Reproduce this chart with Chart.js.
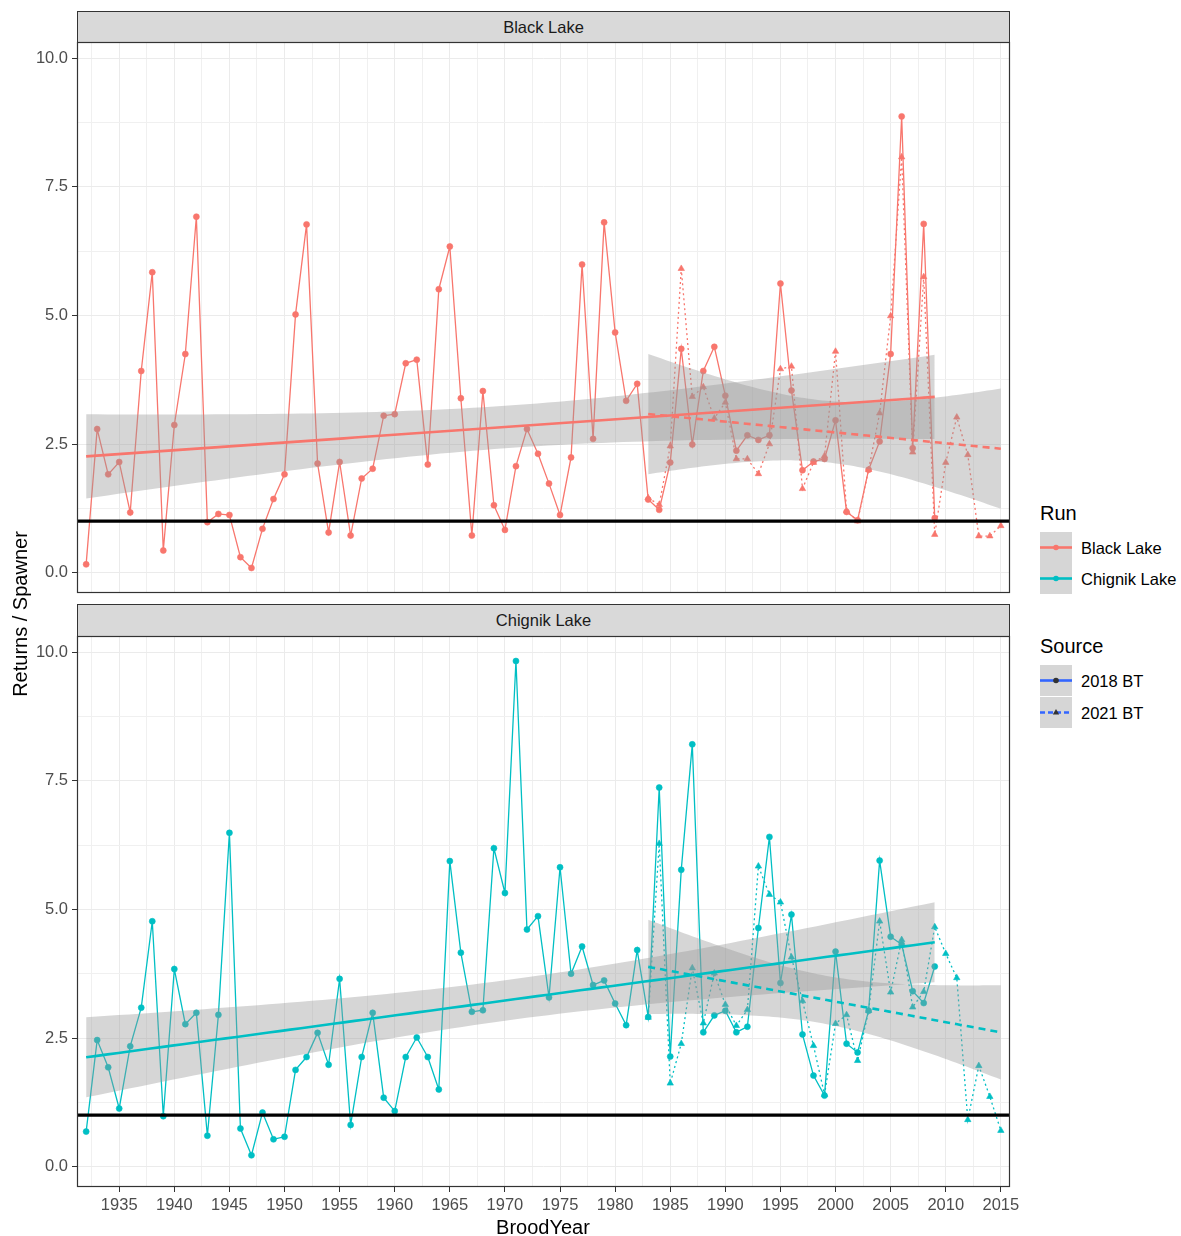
<!DOCTYPE html>
<html lang="en">
<head>
<meta charset="utf-8">
<title>Returns / Spawner by BroodYear</title>
<script src="https://cdn.jsdelivr.net/npm/chart.js@4.4.1/dist/chart.umd.min.js"></script>
<style>
  html, body { margin: 0; padding: 0; background: #fff; }
  body { width: 1181px; height: 1236px; position: relative; overflow: hidden;
         font-family: "Liberation Sans", Arial, Helvetica, sans-serif; }
  canvas { position: absolute; left: 0; }
  .strip { position: absolute; left: 77px; width: 933px; background: #d9d9d9; border: 1px solid #333;
           box-sizing: border-box; color: #1a1a1a; font-size: 16.5px; display: flex;
           align-items: center; justify-content: center; }
  .axis-title { position: absolute; font-size: 20px; color: #000; white-space: nowrap;
                width: 300px; height: 24px; line-height: 24px; text-align: center; }
  .legend-title { position: absolute; left: 1040px; font-size: 20px; color: #000; line-height: 24px; }
  .legend-label { position: absolute; left: 1081px; font-size: 16.5px; color: #000; line-height: 20px; white-space: nowrap; }
  .key { position: absolute; left: 1040px; width: 32px; height: 31px; background: #d6d6d6; }
  .key svg { display: block; }
</style>
</head>
<body>
<div class="strip" style="top:11px;height:32px;">Black Lake</div>
<div class="strip" style="top:604px;height:33px;">Chignik Lake</div>
<canvas id="blackLake" width="1030" height="620" style="top:0"></canvas>
<canvas id="chignikLake" width="1030" height="636" style="top:600px"></canvas>
<div class="axis-title" style="left:393px;top:1215px;">BroodYear</div>
<div class="axis-title" style="left:-130px;top:602px;transform:rotate(-90deg);">Returns / Spawner</div>
<div id="legend"></div>

<script>
// ---- Brood years ----------------------------------------------------------
const years2018 = [1932,1933,1934,1935,1936,1937,1938,1939,1940,1941,1942,1943,1944,1945,1946,1947,1948,1949,
  1950,1951,1952,1953,1954,1955,1956,1957,1958,1959,1960,1961,1962,1963,1964,1965,1966,1967,1968,1969,
  1970,1971,1972,1973,1974,1975,1976,1977,1978,1979,1980,1981,1982,1983,1984,1985,1986,1987,1988,1989,
  1990,1991,1992,1993,1994,1995,1996,1997,1998,1999,2000,2001,2002,2003,2004,2005,2006,2007,2008,2009];
const years2021 = [1983,1984,1985,1986,1987,1988,1989,1990,1991,1992,1993,1994,1995,1996,1997,1998,1999,
  2000,2001,2002,2003,2004,2005,2006,2007,2008,2009,2010,2011,2012,2013,2014,2015];

// ---- Returns per spawner, Black Lake run ---------------------------------
const blackLake2018 = [0.16,2.79,1.91,2.15,1.17,3.92,5.84,0.43,2.87,4.25,6.92,0.98,1.14,1.12,0.30,0.09,0.85,1.43,
  1.91,5.02,6.77,2.12,0.78,2.15,0.72,1.83,2.02,3.05,3.08,4.07,4.14,2.10,5.51,6.34,3.39,0.72,3.53,1.31,
  0.83,2.07,2.79,2.31,1.73,1.12,2.24,5.99,2.60,6.81,4.67,3.34,3.67,1.42,1.22,2.14,4.35,2.49,3.92,4.39,
  3.44,2.37,2.67,2.58,2.67,5.62,3.54,1.99,2.16,2.21,2.96,1.18,1.02,2.00,2.55,4.25,8.87,2.42,6.78,1.06];
const blackLake2021 = [1.45,1.32,2.46,5.91,3.42,3.61,3.00,3.31,2.21,2.21,1.92,2.50,3.96,4.01,1.63,2.14,2.27,
  4.30,1.20,1.00,2.00,3.10,4.99,8.08,2.34,5.75,0.74,2.14,3.02,2.29,0.71,0.71,0.91];

// ---- Returns per spawner, Chignik Lake run -------------------------------
const chignik2018 = [0.68,2.46,1.93,1.13,2.34,3.09,4.77,0.98,3.84,2.77,2.99,0.60,2.95,6.49,0.74,0.22,1.05,0.53,
  0.58,1.88,2.13,2.60,1.98,3.65,0.81,2.13,2.99,1.34,1.08,2.13,2.51,2.13,1.50,5.94,4.16,3.01,3.04,6.19,
  5.32,9.83,4.61,4.87,3.29,5.82,3.75,4.28,3.53,3.62,3.17,2.75,4.21,2.91,7.37,2.14,5.77,8.21,2.61,2.94,
  3.03,2.61,2.72,4.64,6.41,3.57,4.90,2.57,1.77,1.38,4.18,2.39,2.22,3.03,5.95,4.47,4.32,3.41,3.18,3.89];
const chignik2021 = [2.90,6.28,1.62,2.39,3.86,2.79,3.76,3.15,2.74,3.05,5.84,5.29,5.14,4.07,3.22,2.35,1.40,
  2.78,2.95,2.06,3.03,4.77,3.39,4.41,3.10,3.40,4.66,4.14,3.67,0.91,1.96,1.36,0.70];

// ---- Axis labels ------------------------------------------------------------
const xTickLabels = [1935,1940,1945,1950,1955,1960,1965,1970,1975,1980,1985,1990,1995,2000,2005,2010,2015];
const yTickLabels = [0, 2.5, 5, 7.5, 10];
const runNames = ['Black Lake', 'Chignik Lake'];
const sourceNames = ['2018 BT', '2021 BT'];
const replacementLevel = 1;

// ---- Styling ------------------------------------------------------------------
const runColors = { 'Black Lake': '#F8766D', 'Chignik Lake': '#00BFC4' };
const keyBlue = '#3366FF';
const ribbonFill = 'rgba(153,153,153,0.4)';
const FONT = '"Liberation Sans", Arial, Helvetica, sans-serif';

// ---- Shared axis limits -------------------------------------------------------
const allYears = years2018.concat(years2021);
const xMinData = Math.min(...allYears), xMaxData = Math.max(...allYears);
const xPad = 0.01 * (xMaxData - xMinData);
const allValues = [].concat(blackLake2018, blackLake2021, chignik2018, chignik2021);
const yMinData = Math.min(...allValues), yMaxData = Math.max(...allValues);
const yPad = 0.05 * (yMaxData - yMinData);
const X_MIN = xMinData - xPad, X_MAX = xMaxData + xPad;
const Y_MIN = yMinData - yPad, Y_MAX = yMaxData + yPad;

// major + minor grid positions (minor lines halfway between labelled ticks)
function gridPositions(majors, lo, hi) {
  const step = majors[1] - majors[0];
  const ext = [majors[0] - step].concat(majors, [majors[majors.length - 1] + step]);
  const out = majors.slice();
  for (let i = 0; i < ext.length - 1; i++) {
    const m = (ext[i] + ext[i + 1]) / 2;
    if (m >= lo && m <= hi) out.push(m);
  }
  return out.sort((a, b) => a - b);
}
const xGrid = gridPositions(xTickLabels, X_MIN, X_MAX);
const yGrid = gridPositions(yTickLabels, Y_MIN, Y_MAX);
const isMajorX = v => xTickLabels.some(t => Math.abs(t - v) < 1e-6);
const isMajorY = v => yTickLabels.some(t => Math.abs(t - v) < 1e-6);

// ---- Linear fit with 95% confidence band ------------------------------------
function tQuantile975(df) {
  const z = 1.959963985, z3 = z ** 3, z5 = z ** 5, z7 = z ** 7;
  return z + (z3 + z) / (4 * df) + (5 * z5 + 16 * z3 + 3 * z) / (96 * df * df)
           + (3 * z7 + 19 * z5 + 17 * z3 - 15 * z) / (384 * df ** 3);
}
function linearFit(xs, ys, n = 80) {
  const N = xs.length;
  const xbar = xs.reduce((s, v) => s + v, 0) / N;
  const ybar = ys.reduce((s, v) => s + v, 0) / N;
  let sxx = 0, sxy = 0;
  for (let i = 0; i < N; i++) { sxx += (xs[i] - xbar) ** 2; sxy += (xs[i] - xbar) * (ys[i] - ybar); }
  const b = sxy / sxx, a = ybar - b * xbar;
  let sse = 0;
  for (let i = 0; i < N; i++) sse += (ys[i] - a - b * xs[i]) ** 2;
  const s = Math.sqrt(sse / (N - 2));
  const t = tQuantile975(N - 2);
  const x0 = Math.min(...xs), x1 = Math.max(...xs);
  const fit = [], lo = [], hi = [];
  for (let i = 0; i < n; i++) {
    const x = x0 + (x1 - x0) * i / (n - 1);
    const yhat = a + b * x;
    const se = s * Math.sqrt(1 / N + (x - xbar) ** 2 / sxx);
    fit.push({ x, y: yhat }); lo.push({ x, y: yhat - t * se }); hi.push({ x, y: yhat + t * se });
  }
  return { fit, lo, hi };
}
const pairs = (xs, ys) => xs.map((x, i) => ({ x, y: ys[i] }));

// ---- Panel decorations: replacement line and panel border ---------------------
const panelDecor = {
  id: 'panelDecor',
  afterDatasetsDraw(chart) {
    const { ctx, chartArea: a, scales: { y } } = chart;
    const py = y.getPixelForValue(replacementLevel);
    ctx.save();
    ctx.beginPath(); ctx.rect(a.left, a.top, a.right - a.left, a.bottom - a.top); ctx.clip();
    ctx.strokeStyle = '#000'; ctx.lineWidth = 3.4;
    ctx.beginPath(); ctx.moveTo(a.left, py); ctx.lineTo(a.right, py); ctx.stroke();
    ctx.restore();
  },
  afterDraw(chart) {
    const { ctx, chartArea: a } = chart;
    ctx.save();
    ctx.strokeStyle = '#333333'; ctx.lineWidth = 1.2;
    ctx.strokeRect(a.left + 0.5, a.top + 0.5, a.right - a.left - 1, a.bottom - a.top - 1);
    ctx.restore();
  }
};

function panel(canvasId, run, s2018, s2021, showXAxis, padding) {
  const color = runColors[run];
  const f18 = linearFit(years2018, s2018);
  const f21 = linearFit(years2021, s2021);
  const band = (data) => ({ data, borderColor: 'transparent', borderWidth: 0, pointRadius: 0, tension: 0 });
  const datasets = [
    { label: run + ' 2018 BT fit', data: f18.fit, borderColor: color, borderWidth: 2.6, pointRadius: 0, order: 1 },
    { label: run + ' 2021 BT fit', data: f21.fit, borderColor: color, borderWidth: 2.6, borderDash: [7, 5], pointRadius: 0, order: 1 },
    Object.assign(band(f18.hi), { label: '2018 upper', fill: '+1', backgroundColor: ribbonFill, order: 2 }),
    Object.assign(band(f18.lo), { label: '2018 lower', fill: false, order: 2 }),
    Object.assign(band(f21.hi), { label: '2021 upper', fill: '+1', backgroundColor: ribbonFill, order: 2 }),
    Object.assign(band(f21.lo), { label: '2021 lower', fill: false, order: 2 }),
    { label: run + ' 2018 BT', data: pairs(years2018, s2018), borderColor: color, backgroundColor: color,
      borderWidth: 1.3, pointStyle: 'circle', pointRadius: 3.0, pointBorderWidth: 0.6, order: 3 },
    { label: run + ' 2021 BT', data: pairs(years2021, s2021), borderColor: color, backgroundColor: color,
      borderWidth: 1.3, borderDash: [2, 3], pointStyle: 'triangle', pointRadius: 3.7, pointBorderWidth: 0.6, order: 3 }
  ];
  return new Chart(document.getElementById(canvasId), {
    type: 'line',
    data: { datasets },
    options: {
      responsive: false, animation: false, events: [],
      layout: { padding },
      plugins: { legend: { display: false }, tooltip: { enabled: false } },
      elements: { line: { tension: 0 } },
      scales: {
        x: {
          type: 'linear', min: X_MIN, max: X_MAX, bounds: 'data',
          afterBuildTicks: s => { s.ticks = xGrid.map(value => ({ value })); },
          afterFit: s => { s.height = showXAxis ? 49 : 0; },
          border: { display: false },
          grid: {
            color: c => isMajorX(c.tick.value) ? '#EBEBEB' : '#F0F0F0',
            lineWidth: 1,
            drawTicks: showXAxis, tickLength: 5, tickWidth: 1,
            tickColor: c => isMajorX(c.tick.value) ? '#333333' : 'rgba(0,0,0,0)'
          },
          ticks: {
            display: showXAxis, autoSkip: false, maxRotation: 0, padding: 4,
            color: '#4D4D4D', font: { family: FONT, size: 16.5 },
            callback: v => isMajorX(v) ? String(Math.round(v)) : ''
          }
        },
        y: {
          type: 'linear', min: Y_MIN, max: Y_MAX, bounds: 'data',
          afterBuildTicks: s => { s.ticks = yGrid.map(value => ({ value })); },
          afterFit: s => { s.width = 77; },
          border: { display: false },
          grid: {
            color: c => isMajorY(c.tick.value) ? '#EBEBEB' : '#F0F0F0',
            lineWidth: 1, drawTicks: true, tickLength: 5, tickWidth: 1,
            tickColor: c => isMajorY(c.tick.value) ? '#333333' : 'rgba(0,0,0,0)'
          },
          ticks: {
            autoSkip: false, padding: 4, color: '#4D4D4D', font: { family: FONT, size: 16.5 },
            callback: v => isMajorY(v) ? v.toFixed(1) : ''
          }
        }
      }
    },
    plugins: [panelDecor]
  });
}

// plot areas: x 77..1010, top panel y 42..593, bottom panel y 636..1187
panel('blackLake', runNames[0], blackLake2018, blackLake2021, false, { top: 42, right: 20, bottom: 27, left: 0 });
panel('chignikLake', runNames[1], chignik2018, chignik2021, true, { top: 36, right: 20, bottom: 0, left: 0 });

// ---- Legend -----------------------------------------------------------------
function keySvg(stroke, dash, marker, markerColor) {
  const dashAttr = dash ? ` stroke-dasharray="${dash}"` : '';
  const m = marker === 'circle'
    ? `<circle cx="16" cy="15.5" r="2.8" fill="${markerColor}"/>`
    : `<polygon points="16,12 19.2,17.5 12.8,17.5" fill="${markerColor}"/>`;
  return `<svg width="32" height="31"><line x1="0" y1="15.5" x2="32" y2="15.5" stroke="${stroke}" stroke-width="2.6"${dashAttr}/>${m}</svg>`;
}
const legend = document.getElementById('legend');
let html = `<div class="legend-title" style="top:501px;">Run</div>`;
runNames.forEach((name, i) => {
  const top = 532 + i * 31;
  html += `<div class="key" style="top:${top}px;">${keySvg(runColors[name], null, 'circle', runColors[name])}</div>`;
  html += `<div class="legend-label" style="top:${top + 5.5}px;">${name}</div>`;
});
html += `<div class="legend-title" style="top:634px;">Source</div>`;
sourceNames.forEach((name, i) => {
  const top = 665 + i * 32;
  html += `<div class="key" style="top:${top}px;">${keySvg(keyBlue, i ? '5,3' : null, i ? 'triangle' : 'circle', '#333333')}</div>`;
  html += `<div class="legend-label" style="top:${top + 5.5}px;">${name}</div>`;
});
legend.innerHTML = html;
</script>
</body>
</html>
